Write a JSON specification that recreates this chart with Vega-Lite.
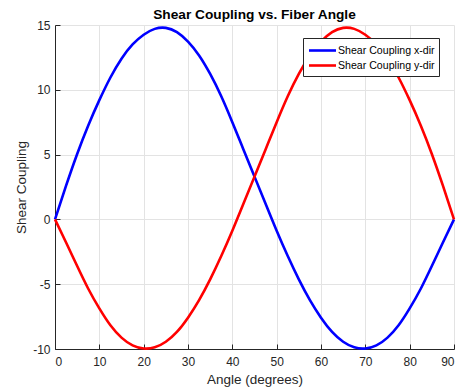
{
  "$schema": "https://vega.github.io/schema/vega-lite/v6.json",
  "width": 399,
  "height": 324,
  "autosize": {"type": "none"},
  "padding": {"left": 55, "top": 25, "right": 2, "bottom": 42},
  "background": "white",
  "title": {"text": "Shear Coupling vs. Fiber Angle", "font": "Liberation Sans", "fontSize": 13.7, "fontWeight": "bold", "color": "#000000", "anchor": "middle", "offset": -3},
  "config": {
    "view": {"stroke": null},
    "font": "Liberation Sans",
    "axis": {"labelFont": "Liberation Sans", "titleFont": "Liberation Sans", "labelColor": "#262626", "titleColor": "#262626", "labelFontSize": 12, "titleFontSize": 13.5, "titleFontWeight": "normal", "domainColor": "#262626", "tickColor": "#262626", "gridColor": "#e3e3e3", "gridWidth": 1, "domainWidth": 1, "tickSize": -5, "labelExpr": "toString(datum.value)"}
  },
  "data": {"values": [
    {"angle": 0, "value": 0, "series": "Shear Coupling x-dir"},
    {"angle": 2.5, "value": 2.6, "series": "Shear Coupling x-dir"},
    {"angle": 5, "value": 5.05, "series": "Shear Coupling x-dir"},
    {"angle": 7.5, "value": 7.25, "series": "Shear Coupling x-dir"},
    {"angle": 10, "value": 9.2, "series": "Shear Coupling x-dir"},
    {"angle": 12.5, "value": 10.95, "series": "Shear Coupling x-dir"},
    {"angle": 15, "value": 12.4, "series": "Shear Coupling x-dir"},
    {"angle": 17.5, "value": 13.5, "series": "Shear Coupling x-dir"},
    {"angle": 20, "value": 14.25, "series": "Shear Coupling x-dir"},
    {"angle": 22.5, "value": 14.7, "series": "Shear Coupling x-dir"},
    {"angle": 25, "value": 14.78, "series": "Shear Coupling x-dir"},
    {"angle": 27.5, "value": 14.45, "series": "Shear Coupling x-dir"},
    {"angle": 30, "value": 13.72, "series": "Shear Coupling x-dir"},
    {"angle": 32.5, "value": 12.65, "series": "Shear Coupling x-dir"},
    {"angle": 35, "value": 11.22, "series": "Shear Coupling x-dir"},
    {"angle": 37.5, "value": 9.5, "series": "Shear Coupling x-dir"},
    {"angle": 40, "value": 7.5, "series": "Shear Coupling x-dir"},
    {"angle": 42.5, "value": 5.4, "series": "Shear Coupling x-dir"},
    {"angle": 45, "value": 3.3, "series": "Shear Coupling x-dir"},
    {"angle": 47.5, "value": 1.2, "series": "Shear Coupling x-dir"},
    {"angle": 50, "value": -0.88, "series": "Shear Coupling x-dir"},
    {"angle": 52.5, "value": -2.83, "series": "Shear Coupling x-dir"},
    {"angle": 55, "value": -4.63, "series": "Shear Coupling x-dir"},
    {"angle": 57.5, "value": -6.23, "series": "Shear Coupling x-dir"},
    {"angle": 60, "value": -7.58, "series": "Shear Coupling x-dir"},
    {"angle": 62.5, "value": -8.68, "series": "Shear Coupling x-dir"},
    {"angle": 65, "value": -9.44, "series": "Shear Coupling x-dir"},
    {"angle": 67.5, "value": -9.87, "series": "Shear Coupling x-dir"},
    {"angle": 70, "value": -9.96, "series": "Shear Coupling x-dir"},
    {"angle": 72.5, "value": -9.72, "series": "Shear Coupling x-dir"},
    {"angle": 75, "value": -9.12, "series": "Shear Coupling x-dir"},
    {"angle": 77.5, "value": -8.17, "series": "Shear Coupling x-dir"},
    {"angle": 80, "value": -6.87, "series": "Shear Coupling x-dir"},
    {"angle": 82.5, "value": -5.35, "series": "Shear Coupling x-dir"},
    {"angle": 85, "value": -3.6, "series": "Shear Coupling x-dir"},
    {"angle": 87.5, "value": -1.78, "series": "Shear Coupling x-dir"},
    {"angle": 90, "value": 0, "series": "Shear Coupling x-dir"},
    {"angle": 0, "value": 0, "series": "Shear Coupling y-dir"},
    {"angle": 2.5, "value": -1.78, "series": "Shear Coupling y-dir"},
    {"angle": 5, "value": -3.6, "series": "Shear Coupling y-dir"},
    {"angle": 7.5, "value": -5.35, "series": "Shear Coupling y-dir"},
    {"angle": 10, "value": -6.87, "series": "Shear Coupling y-dir"},
    {"angle": 12.5, "value": -8.17, "series": "Shear Coupling y-dir"},
    {"angle": 15, "value": -9.12, "series": "Shear Coupling y-dir"},
    {"angle": 17.5, "value": -9.72, "series": "Shear Coupling y-dir"},
    {"angle": 20, "value": -9.96, "series": "Shear Coupling y-dir"},
    {"angle": 22.5, "value": -9.87, "series": "Shear Coupling y-dir"},
    {"angle": 25, "value": -9.44, "series": "Shear Coupling y-dir"},
    {"angle": 27.5, "value": -8.68, "series": "Shear Coupling y-dir"},
    {"angle": 30, "value": -7.58, "series": "Shear Coupling y-dir"},
    {"angle": 32.5, "value": -6.23, "series": "Shear Coupling y-dir"},
    {"angle": 35, "value": -4.63, "series": "Shear Coupling y-dir"},
    {"angle": 37.5, "value": -2.83, "series": "Shear Coupling y-dir"},
    {"angle": 40, "value": -0.88, "series": "Shear Coupling y-dir"},
    {"angle": 42.5, "value": 1.2, "series": "Shear Coupling y-dir"},
    {"angle": 45, "value": 3.3, "series": "Shear Coupling y-dir"},
    {"angle": 47.5, "value": 5.4, "series": "Shear Coupling y-dir"},
    {"angle": 50, "value": 7.5, "series": "Shear Coupling y-dir"},
    {"angle": 52.5, "value": 9.5, "series": "Shear Coupling y-dir"},
    {"angle": 55, "value": 11.22, "series": "Shear Coupling y-dir"},
    {"angle": 57.5, "value": 12.65, "series": "Shear Coupling y-dir"},
    {"angle": 60, "value": 13.72, "series": "Shear Coupling y-dir"},
    {"angle": 62.5, "value": 14.45, "series": "Shear Coupling y-dir"},
    {"angle": 65, "value": 14.78, "series": "Shear Coupling y-dir"},
    {"angle": 67.5, "value": 14.7, "series": "Shear Coupling y-dir"},
    {"angle": 70, "value": 14.25, "series": "Shear Coupling y-dir"},
    {"angle": 72.5, "value": 13.5, "series": "Shear Coupling y-dir"},
    {"angle": 75, "value": 12.4, "series": "Shear Coupling y-dir"},
    {"angle": 77.5, "value": 10.95, "series": "Shear Coupling y-dir"},
    {"angle": 80, "value": 9.2, "series": "Shear Coupling y-dir"},
    {"angle": 82.5, "value": 7.25, "series": "Shear Coupling y-dir"},
    {"angle": 85, "value": 5.05, "series": "Shear Coupling y-dir"},
    {"angle": 87.5, "value": 2.6, "series": "Shear Coupling y-dir"},
    {"angle": 90, "value": 0, "series": "Shear Coupling y-dir"}
  ]},
  "mark": {"type": "line", "strokeWidth": 2.6, "interpolate": "natural", "clip": false},
  "encoding": {
    "x": {"field": "angle", "type": "quantitative", "scale": {"domain": [0, 90], "nice": false, "zero": false},
          "axis": {"title": "Angle (degrees)", "values": [0, 10, 20, 30, 40, 50, 60, 70, 80, 90], "labelPadding": 12, "titlePadding": 5}},
    "y": {"field": "value", "type": "quantitative", "scale": {"domain": [-10, 15], "nice": false, "zero": false},
          "axis": {"title": "Shear Coupling", "values": [-10, -5, 0, 5, 10, 15], "labelPadding": 10, "titlePadding": 4}},
    "color": {"field": "series", "type": "nominal",
              "scale": {"domain": ["Shear Coupling x-dir", "Shear Coupling y-dir"], "range": ["#0000ff", "#ff0000"]},
              "legend": {"title": null, "orient": "none", "legendX": 248, "legendY": 13, "fillColor": "white", "strokeColor": "#262626", "padding": 4, "symbolType": "M-2,0H2", "symbolStrokeWidth": 2.6, "symbolSize": 182, "symbolOffset": 7, "labelFontSize": 10.6, "labelFont": "Liberation Sans", "labelColor": "#000000", "rowPadding": 0, "labelOffset": 7}}
  }
}
